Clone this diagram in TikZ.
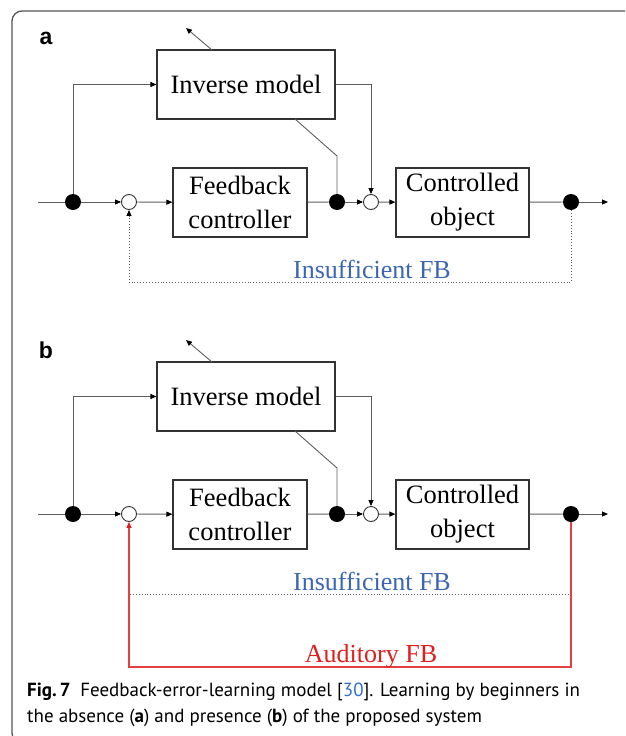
\documentclass[tikz,border=0pt]{standalone}
\usepackage{fontspec}
\setmainfont{Liberation Serif}
\newfontfamily\capfont{PT Sans}
\newfontfamily\labfont{Liberation Sans}
\usetikzlibrary{arrows.meta}
\definecolor{lin}{HTML}{5E5E5E}
\definecolor{boxc}{HTML}{333333}
\definecolor{framec}{HTML}{555555}
\definecolor{fbblue}{HTML}{3C66B0}
\definecolor{fbred}{HTML}{E01E1E}
\definecolor{capblue}{HTML}{2F6FD0}
\tikzset{
  blk/.style={draw=boxc, line width=1.1pt, align=center, inner sep=0pt,
    font=\fontsize{26.5}{34}\selectfont},
  jdot/.style={circle, fill=black, minimum size=16pt, inner sep=0pt},
  jsum/.style={circle, draw=boxc, fill=white, line width=0.9pt, minimum size=15pt, inner sep=0pt},
  con/.style={draw=lin, line width=0.9pt},
  redcon/.style={draw=fbred!85!white, line width=1.1pt},
  arr/.style={-{Triangle[length=6pt,width=5pt,color=black]}},
  redarr/.style={-{Triangle[length=6pt,width=5pt,color=fbred]}},
  lab/.style={font=\labfont\bfseries\fontsize{23}{23}\selectfont, inner sep=0pt},
  fbtext/.style={font=\fontsize{26}{26}\selectfont, inner sep=0pt, anchor=base},
}
\newcommand\drawdiag[1]{%
  \node[blk, minimum width=178pt, minimum height=69pt] (#1inv) at (246,84.5) {Inverse model};
  \node[blk, minimum width=134pt, minimum height=69pt] (#1fbc) at (240,202.5) {Feedback\\controller};
  \node[blk, minimum width=133pt, minimum height=69pt] (#1co) at (462.5,202.5) {Controlled\\object};
  \node[jdot] (#1d1) at (73,202) {};
  \node[jdot] (#1d2) at (337,202) {};
  \node[jdot] (#1d3) at (571,202) {};
  \node[jsum] (#1s1) at (129,202) {};
  \node[jsum] (#1s2) at (371,202) {};
  \coordinate (#1in) at (38,202);
  \coordinate (#1out) at (608,202);
  \coordinate (#1upb) at (212,50);
  \coordinate (#1upt) at (186,28);
  \coordinate (#1g1) at (295,119);
  \coordinate (#1g2) at (337,156);
  \draw[con] (#1in) -- (#1d1);
  \draw[con,arr] (#1d1) -- (#1s1);
  \draw[con,arr] (#1s1) -- (#1fbc);
  \draw[con] (#1fbc) -- (#1d2);
  \draw[con,arr] (#1d2) -- (#1s2);
  \draw[con,arr] (#1s2) -- (#1co);
  \draw[con] (#1co) -- (#1d3);
  \draw[con,arr] (#1d3) -- (#1out);
  \draw[con,arr] (#1d1) |- (#1inv.west);
  \draw[con,arr] (#1inv.east) -| (#1s2.north);
  \draw[con] (#1g1) -- (#1g2) -- (#1d2);
  \draw[con,arr] (#1upb) -- (#1upt);
}
\begin{document}
\begin{tikzpicture}[x=1pt,y=-1pt]
\useasboundingbox (0,0) rectangle (625,736);
\begin{scope}
  \clip (0,0) rectangle (625,736);
  \draw[framec, line width=1.3pt, rounded corners=10pt] (640,11) -- (12,11) -- (12,743) -- (60,743);
\end{scope}
% diagram a
\node[lab] (alab) at (46,38) {a};
\drawdiag{a}
\coordinate (afbl) at (129,282);
\draw[con, dotted, arr] (ad3) |- (afbl) -- (as1);
\node[fbtext, text=fbblue] (ains) at (372,278) {Insufficient FB};
% diagram b
\begin{scope}[shift={(0,312)}]
\node[lab] (blab) at (46,38) {b};
\drawdiag{b}
\coordinate (bdl) at (130,282);
\coordinate (bdr) at (571,282);
\draw[con, dotted] (bdl) -- (bdr);
\node[fbtext, text=fbblue] (bins) at (372,278) {Insufficient FB};
\coordinate (bfbl) at (129,355);
\draw[redcon, redarr] (bd3) |- (bfbl) -- (bs1);
\node[fbtext, text=fbred] (baud) at (371,350) {Auditory FB};
\end{scope}
% caption
\node[anchor=base west, inner sep=0pt, font=\capfont\fontsize{19}{24}\selectfont] (cap1) at (27,696)
  {\textbf{Fig.\,7}\hspace{0.5em}Feedback-error-learning model [\textcolor{capblue}{30}]. Learning by beginners in};
\node[anchor=base west, inner sep=0pt, font=\capfont\fontsize{19}{24}\selectfont] (cap2) at (27,722)
  {the absence (\textbf{a}) and presence (\textbf{b}) of the proposed system};
\end{tikzpicture}
\end{document}
